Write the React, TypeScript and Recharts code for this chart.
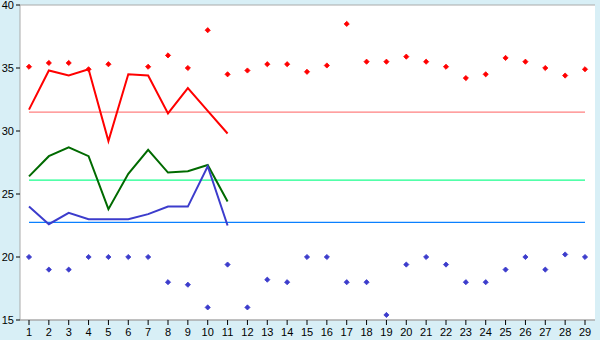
import React from "react";
import { ComposedChart, Line, XAxis, YAxis, CartesianGrid } from "recharts";

const days = ["1","2","3","4","5","6","7","8","9","10","11","12","13","14","15","16","17","18","19","20","21","22","23","24","25","26","27","28","29"];

const redDots = [35.1,35.4,35.4,34.9,35.3,null,35.1,36.0,35.0,38.0,34.5,34.8,35.3,35.3,34.7,35.2,38.5,35.5,35.5,35.9,35.5,35.1,34.2,34.5,35.8,35.5,35.0,34.4,34.9];
const blueDots = [20,19,19,20,20,20,20,18,17.8,16,19.4,16,18.2,18,20,20,18,18,15.4,19.4,20,19.4,18,18,19,20,19,20.2,20];

const redLine = [31.7,34.8,34.4,34.9,29.2,34.5,34.4,31.4,33.4,31.6,29.8];
const greenLine = [26.4,28.0,28.7,28.0,23.8,26.6,28.5,26.7,26.8,27.3,24.4];
const blueLine = [24.0,22.6,23.5,23.0,23.0,23.0,23.4,24.0,24.0,27.2,22.5];

const redAvg = 31.5;
const greenAvg = 26.1;
const blueAvg = 22.75;

const yTicks = [15, 20, 25, 30, 35, 40];

const data = days.map((d, i) => ({
  day: d,
  redDot: redDots[i],
  blueDot: blueDots[i],
  redLine: i < redLine.length ? redLine[i] : null,
  greenLine: i < greenLine.length ? greenLine[i] : null,
  blueLine: i < blueLine.length ? blueLine[i] : null,
  redAvg,
  greenAvg,
  blueAvg,
}));

const makeDiamond = (color: string) => (props: any) => {
  const { cx, cy, index } = props;
  if (cx == null || cy == null || isNaN(cy)) return <g key={"e" + index} />;
  const r = 2.6;
  return (
    <path
      key={"d" + index}
      d={`M${cx},${cy - r}L${cx + r},${cy}L${cx},${cy + r}L${cx - r},${cy}Z`}
      fill={color}
      stroke={color}
      strokeWidth={0.8}
    />
  );
};

const font = { fontFamily: "Liberation Sans, Arial, sans-serif", fontSize: 11, fill: "#000" };

export default function App() {
  return (
    <div style={{ position: "absolute", left: 0, top: 0, width: 600, height: 340, background: "#d8eff6" }}>
      <ComposedChart width={600} height={340} data={data} margin={{ top: 5, right: 5, bottom: 0, left: 0 }}>
        <CartesianGrid vertical={false} stroke="#aaaaaa" fill="#ffffff" />
        <XAxis
          dataKey="day"
          scale="point"
          padding={{ left: 9, right: 10 }}
          height={20}
          tickSize={5}
          tickMargin={3}
          interval={0}
          stroke="#aaaaaa"
          tick={font}
          tickLine={{ stroke: "#000" }}
        />
        <YAxis
          yAxisId="l"
          domain={[15, 40]}
          ticks={yTicks}
          width={20}
          tickSize={4}
          tickMargin={2}
          stroke="#aaaaaa"
          tick={font}
          tickLine={{ stroke: "#000" }}
          interval={0}
        />
        <YAxis yAxisId="r" orientation="right" width={0} domain={[15, 40]} tick={false} tickLine={false} stroke="#aaaaaa" />
        <Line yAxisId="l" dataKey="redAvg" stroke="#ff8080" strokeWidth={1.2} dot={false} activeDot={false} isAnimationActive={false} />
        <Line yAxisId="l" dataKey="greenAvg" stroke="#19ff8c" strokeWidth={1.2} dot={false} activeDot={false} isAnimationActive={false} />
        <Line yAxisId="l" dataKey="blueAvg" stroke="#0a80ff" strokeWidth={1.2} dot={false} activeDot={false} isAnimationActive={false} />
        <Line yAxisId="l" dataKey="redLine" stroke="#ff0000" strokeWidth={2} dot={false} activeDot={false} isAnimationActive={false} />
        <Line yAxisId="l" dataKey="greenLine" stroke="#006a00" strokeWidth={2} dot={false} activeDot={false} isAnimationActive={false} />
        <Line yAxisId="l" dataKey="blueLine" stroke="#3c3ccc" strokeWidth={2} dot={false} activeDot={false} isAnimationActive={false} />
        <Line yAxisId="l" dataKey="redDot" stroke="none" dot={makeDiamond("#ff0000")} activeDot={false} isAnimationActive={false} />
        <Line yAxisId="l" dataKey="blueDot" stroke="none" dot={makeDiamond("#3c3ccc")} activeDot={false} isAnimationActive={false} />
      </ComposedChart>
    </div>
  );
}
